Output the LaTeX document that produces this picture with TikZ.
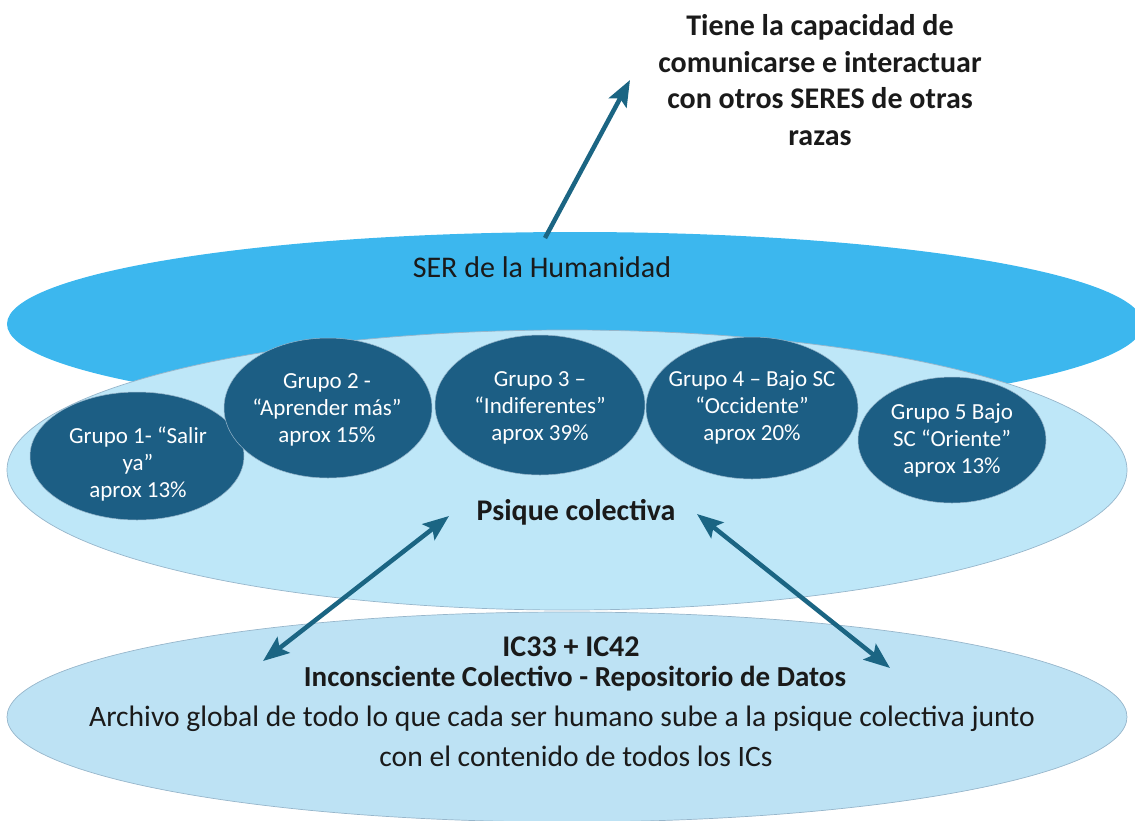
\documentclass[tikz,border=0pt]{standalone}
\usepackage{fontspec}
\setmainfont{Carlito}
\usetikzlibrary{shapes.geometric,arrows.meta}
\definecolor{serblue}{HTML}{3CB7EE}
\definecolor{psiq}{HTML}{BEE7F8}
\definecolor{icblue}{HTML}{BDE2F4}
\definecolor{grp}{HTML}{1C5E84}
\definecolor{arr}{HTML}{1B6583}
\definecolor{edge}{HTML}{97B6CB}
\definecolor{txt}{HTML}{1A1A1A}
\tikzset{
  layer/.style={ellipse, inner sep=0pt, draw=edge, line width=0.7pt},
  group/.style={ellipse, inner sep=0pt, fill=grp, draw=edge, line width=0.5pt},
  gtext/.style={text=white, align=center, font=\fontsize{23}{27}\selectfont},
  dark/.style={text=txt, inner sep=0pt, anchor=base},
  link/.style={draw=arr, line width=4.5pt, {Stealth[length=26pt,width=20pt,inset=5pt]}-{Stealth[length=26pt,width=20pt,inset=5pt]}},
  uplink/.style={draw=arr, line width=4.5pt, -{Stealth[length=26pt,width=20pt,inset=5pt]}},
}
\begin{document}
\begin{tikzpicture}[x=1pt,y=-1pt]
\useasboundingbox (0,0) rectangle (1135,820);
% layers
\node[layer, fill=serblue, draw=none, minimum width=1136pt, minimum height=184pt] (ser) at (575,324) {};
\node[layer, fill=psiq, minimum width=1120pt, minimum height=280pt] (psique) at (567,470) {};
\node[layer, fill=icblue, minimum width=1120pt, minimum height=210pt] (ic) at (567,717) {};
% groups
\node[group, minimum width=214pt, minimum height=128pt] (g1) at (137,456) {};
\node[group, minimum width=208pt, minimum height=140pt] (g2) at (328,408) {};
\node[group, minimum width=210pt, minimum height=140pt] (g3) at (540,405) {};
\node[group, minimum width=212pt, minimum height=142pt] (g4) at (752,408) {};
\node[group, minimum width=188pt, minimum height=126pt] (g5) at (952,440) {};
\node[gtext] (g1t) at (138,464) {Grupo 1- “Salir\\ya”\\aprox 13\%};
\node[gtext] (g2t) at (327,410) {Grupo 2 -\\“Aprender más”\\aprox 15\%};
\node[gtext] (g3t) at (540,408) {Grupo 3 –\\“Indiferentes”\\aprox 39\%};
\node[gtext] (g4t) at (752,407) {Grupo 4 – Bajo SC\\“Occidente”\\aprox 20\%};
\node[gtext] (g5t) at (952,440) {Grupo 5 Bajo\\SC “Oriente”\\aprox 13\%};
% texts
\node[text=txt, font=\fontsize{30}{36}\selectfont] (sert) at (542,267) {SER de la Humanidad};
\node[text=txt, font=\bfseries\fontsize{30}{36}\selectfont] (pst) at (576,512) {Psique colectiva};
\node[dark, font=\bfseries\fontsize{30}{36}\selectfont] (ict1) at (571,656) {IC33 + IC42};
\node[dark, font=\bfseries\fontsize{29}{36}\selectfont] (ict2) at (575,686) {Inconsciente Colectivo - Repositorio de Datos};
\node[dark, font=\fontsize{29.6}{36}\selectfont] (icd1) at (562,726) {Archivo global de todo lo que cada ser humano sube a la psique colectiva junto};
\node[dark, font=\fontsize{29.6}{36}\selectfont] (icd2) at (576,766) {con el contenido de todos los ICs};
\node[text=txt, align=center, font=\bfseries\fontsize{30}{36.5}\selectfont] (top) at (820,80) {Tiene la capacidad de\\comunicarse e interactuar\\con otros SERES de otras\\razas};
% arrows
\coordinate (a1s) at (545,238);
\coordinate (a1e) at (630,80);
\coordinate (a2s) at (263,661);
\coordinate (a2e) at (449,516);
\coordinate (a3s) at (697,514);
\coordinate (a3e) at (890,668);
\draw[uplink] (a1s) -- (a1e);
\draw[link] (a2s) -- (a2e);
\draw[link] (a3s) -- (a3e);
\end{tikzpicture}
\end{document}
